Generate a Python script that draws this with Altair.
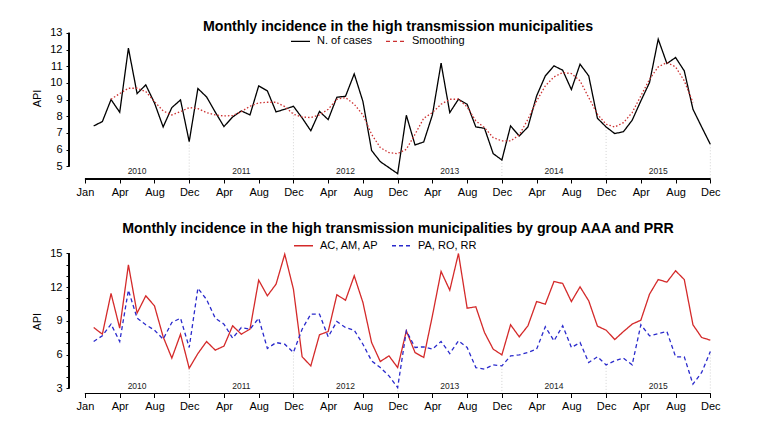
import json
import altair as alt
import pandas as pd

# ---------------- data ----------------
months = list(range(1, 73))
tick_values = list(range(0, 73, 4))
tick_labels = ["Jan"] + ["Apr", "Aug", "Dec"] * 6
years = ["2010", "2011", "2012", "2013", "2014", "2015"]
year_pos = [6, 18, 30, 42, 54, 66]
dec_pos = [12, 24, 36, 48, 60, 72]

cases = [7.42, 7.68, 9.00, 8.24, 12.08, 9.36, 9.88, 8.80, 7.36, 8.52, 8.98, 6.48,
         9.66, 9.16, 8.25, 7.38, 7.96, 8.32, 8.08, 9.82, 9.52, 8.26, 8.42, 8.60,
         7.90, 7.13, 8.29, 7.80, 9.14, 9.20, 10.54, 8.89, 5.95, 5.28, 4.92, 4.56,
         8.06, 6.28, 6.46, 8.08, 11.18, 8.22, 9.02, 8.72, 7.36, 7.28, 5.76, 5.38,
         7.42, 6.82, 7.36, 9.22, 10.42, 11.02, 10.76, 9.60, 11.12, 10.42, 7.88, 7.36,
         6.96, 7.08, 7.76, 8.92, 10.02, 12.62, 11.16, 11.52, 10.72, 8.42, 7.36, 6.32]

smooth_t = list(range(3, 71))
smooth = [9.02, 9.36, 9.68, 9.68, 9.48, 8.88, 8.32, 8.08, 8.28, 8.52,
          8.46, 8.22, 8.08, 8.02, 8.04, 8.28, 8.60, 8.80, 8.84, 8.84, 8.58, 8.12,
          7.96, 7.92, 8.08, 8.42, 9.02, 9.12, 8.72, 8.08, 6.92, 6.12, 5.82, 5.76,
          6.02, 6.92, 7.88, 8.22, 8.72, 9.02, 9.02, 8.56, 7.72, 7.32, 6.72, 6.52,
          6.52, 6.88, 7.82, 8.92, 9.82, 10.36, 10.62, 10.56, 10.12, 9.12, 8.12, 7.52,
          7.36, 7.62, 8.22, 9.22, 10.22, 10.96, 11.22, 10.96, 10.12, 8.82]

group_aaa = [8.41, 7.81, 11.44, 8.35, 13.99, 9.69, 11.23, 10.34, 7.58, 5.68, 7.81, 4.78,
             6.09, 7.16, 6.39, 6.75, 8.56, 7.81, 8.26, 12.63, 11.23, 12.27, 14.94, 11.82,
             5.80, 4.99, 7.76, 8.05, 11.32, 10.84, 13.01, 10.64, 7.07, 5.38, 5.88, 4.84,
             8.11, 6.18, 5.74, 9.45, 13.40, 11.73, 15.00, 10.13, 10.25, 7.96, 6.48, 5.97,
             8.65, 7.58, 8.56, 10.72, 10.49, 12.51, 12.33, 10.72, 12.03, 10.78, 8.53, 8.17,
             7.34, 8.05, 8.71, 9.06, 11.38, 12.68, 12.45, 13.46, 12.68, 8.65, 7.52, 7.28]

group_prr = [7.16, 7.67, 8.71, 7.16, 11.73, 9.24, 8.65, 8.17, 7.37, 8.85, 9.24, 6.63,
             11.91, 10.90, 9.24, 8.71, 7.46, 8.41, 8.26, 9.24, 6.54, 7.07, 6.92, 6.18,
             8.26, 9.60, 9.60, 7.58, 8.94, 8.41, 8.17, 6.92, 5.44, 4.84, 4.10, 3.06,
             8.11, 6.63, 6.69, 6.48, 7.16, 6.09, 7.22, 6.63, 4.84, 4.70, 5.08, 4.99,
             5.88, 5.97, 6.18, 6.48, 8.47, 7.22, 8.56, 6.63, 7.07, 5.29, 5.80, 5.08,
             5.44, 5.68, 5.08, 8.65, 7.67, 7.87, 8.05, 5.80, 5.80, 3.36, 4.40, 6.27]

top_names = ["N. of cases", "Smoothing"]
bot_names = ["AC, AM, AP", "PA, RO, RR"]
title_top = "Monthly incidence in the high transmission municipalities"
title_bot = "Monthly incidence in the high transmission municipalities by group AAA and PRR"

# ---------------- styling ----------------
FONT = "Liberation Sans"
W = 666
H_TOP = 147
H_BOT = 144.5
X_DOMAIN = [-1.84, 74.84]

label_expr = json.dumps(tick_labels) + "[round(datum.value / 4)]"


def x_enc():
    return alt.X(
        "t:Q",
        scale=alt.Scale(domain=X_DOMAIN, nice=False, zero=False),
        axis=alt.Axis(values=tick_values, tickCount=200, labelExpr=label_expr, domain=False,
                      grid=False, tickSize=4, labelPadding=3, title=None, labelFontSize=11,
                      labelFont=FONT, tickColor="black", labelColor="black",
                      labelOverlap=False, labelFlush=False),
    )


def y_enc(domain, values, label_expr_y, title_y=None):
    ax = dict(values=values, tickCount=200, domain=False, grid=False, title="API", tickSize=3,
              labelPadding=4, labelFontSize=11, labelFont=FONT, titleFont=FONT,
              titleFontSize=11, titleFontWeight="normal", titleColor="black",
              tickColor="black", labelColor="black", titleX=-27,
              labelOverlap=False, labelFlush=False, labelExpr=label_expr_y)
    if title_y is not None:
        ax["titleY"] = title_y
    return alt.Y("value:Q", scale=alt.Scale(domain=domain, nice=False, zero=False),
                 axis=alt.Axis(**ax))


def legend(lx, ly):
    return alt.Legend(orient="none", legendX=lx, legendY=ly, direction="horizontal",
                      columns=2, title=None, labelFontSize=11, labelFont=FONT,
                      labelColor="black", symbolType="stroke", symbolSize=361,
                      symbolStrokeWidth=1.3, labelOffset=6, columnPadding=10, padding=0)


# ---------------- top panel ----------------
df_cases = pd.DataFrame({"t": months, "value": cases, "series": top_names[0]})
df_smooth = pd.DataFrame({"t": smooth_t, "value": smooth, "series": top_names[1]})
df_dec_top = pd.DataFrame({"t": dec_pos, "value": [cases[p - 1] for p in dec_pos]})
df_year = pd.DataFrame({"t": year_pos, "year": years})

top_color = alt.Scale(domain=top_names, range=["#000000", "#cc3030"])
top_dash = alt.Scale(domain=top_names, range=[[1, 0], [4, 3]])
ytop = y_enc([4.24, 13.05], list(range(5, 14)), "format(datum.value, 'd')", title_y=66)
LEG_TOP = legend(221, -1.3)

top_dec = alt.Chart(df_dec_top).mark_rule(color="#c8c8c8", strokeDash=[1, 2], strokeWidth=0.8).encode(
    x=x_enc(), y=ytop, y2=alt.value(H_TOP))
top_cases = alt.Chart(df_cases).mark_line(strokeWidth=1.3).encode(
    x=x_enc(), y=ytop,
    color=alt.Color("series:N", scale=top_color, legend=LEG_TOP),
    strokeDash=alt.StrokeDash("series:N", scale=top_dash, legend=LEG_TOP))
top_smooth = alt.Chart(df_smooth).mark_line(strokeWidth=1.3, strokeDash=[1.5, 2]).encode(
    x=x_enc(), y=ytop,
    color=alt.Color("series:N", scale=top_color, legend=LEG_TOP))
top_years = alt.Chart(df_year).mark_text(fontSize=8.5, font=FONT, color="#222222", baseline="middle").encode(
    x=x_enc(), y=alt.value(H_TOP - 8), text="year:N")
top_xline = alt.Chart(df_year).mark_rule(color="black", strokeWidth=1).encode(
    x=alt.datum(0), x2=alt.datum(72), y=alt.value(H_TOP))
top_yline = alt.Chart(df_year).mark_rule(color="black", strokeWidth=1).encode(
    x=alt.value(0), y=alt.datum(5), y2=alt.datum(13))

top = alt.layer(top_dec, top_cases, top_smooth, top_years, top_xline, top_yline).properties(
    width=W, height=H_TOP,
    title=alt.TitleParams(title_top, fontSize=14.2, font=FONT, fontWeight="bold", anchor="middle",
                          frame="group", offset=-18.5, baseline="alphabetic", dx=-4, color="black"),
)

# ---------------- bottom panel ----------------
df_a = pd.DataFrame({"t": months, "value": group_aaa, "series": bot_names[0]})
df_b = pd.DataFrame({"t": months, "value": group_prr, "series": bot_names[1]})
df_dec_bot = pd.DataFrame({"t": dec_pos,
                           "value": [min(group_aaa[p - 1], group_prr[p - 1]) for p in dec_pos]})
df_ab = pd.concat([df_a, df_b])

bot_color = alt.Scale(domain=bot_names, range=["#d42a2a", "#2a2acc"])
bot_dash = alt.Scale(domain=bot_names, range=[[1, 0], [4, 3]])
ybot = y_enc([2.53, 15.4], list(range(3, 16)),
             "datum.value % 3 == 0 ? format(datum.value, 'd') : ''")
LEG_BOT = legend(224, -14)

bot_dec = alt.Chart(df_dec_bot).mark_rule(color="#c8c8c8", strokeDash=[1, 2], strokeWidth=0.8).encode(
    x=x_enc(), y=ybot, y2=alt.value(H_BOT))
bot_lines = alt.Chart(df_ab).mark_line(strokeWidth=1.3).encode(
    x=x_enc(), y=ybot,
    color=alt.Color("series:N", scale=bot_color, legend=LEG_BOT),
    strokeDash=alt.StrokeDash("series:N", scale=bot_dash, legend=LEG_BOT),
    detail="series:N")
bot_years = alt.Chart(df_year).mark_text(fontSize=8.5, font=FONT, color="#222222", baseline="middle").encode(
    x=x_enc(), y=alt.value(H_BOT - 7.7), text="year:N")
bot_xline = alt.Chart(df_year).mark_rule(color="black", strokeWidth=1).encode(
    x=alt.datum(0), x2=alt.datum(72), y=alt.value(H_BOT))
bot_yline = alt.Chart(df_year).mark_rule(color="black", strokeWidth=1).encode(
    x=alt.value(0), y=alt.datum(3), y2=alt.datum(15))

bot = alt.layer(bot_dec, bot_lines, bot_years, bot_xline, bot_yline).properties(
    width=W, height=H_BOT,
    title=alt.TitleParams(title_bot, fontSize=14.2, font=FONT, fontWeight="bold", anchor="middle",
                          frame="group", offset=-12.5, baseline="alphabetic", dx=-4, color="black"),
)

chart = alt.vconcat(top, bot, spacing=25).resolve_scale(
    color="independent", strokeDash="independent", x="independent", y="independent"
).resolve_legend(color="independent", strokeDash="independent").properties(
    padding={"left": 23, "top": 12, "right": 5, "bottom": 5},
    background="white",
).configure_view(stroke=None)

chart.save("out.html", embed_options={"renderer": "svg", "actions": False})
